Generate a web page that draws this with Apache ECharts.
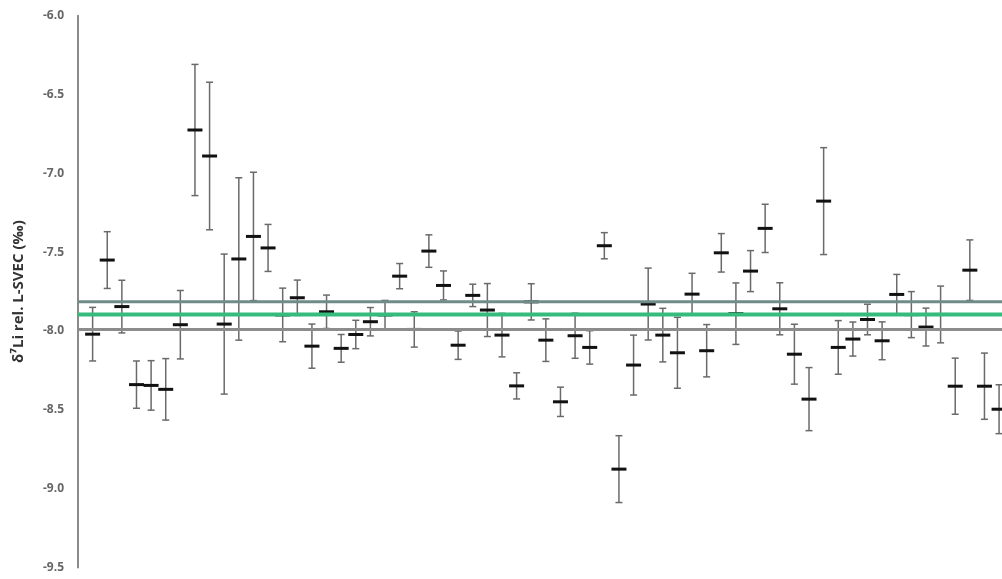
<!DOCTYPE html>
<html>
<head>
<meta charset="utf-8">
<title>δ7Li rel. L-SVEC</title>
<script src="https://cdn.jsdelivr.net/npm/echarts@6/dist/echarts.min.js"></script>
<style>
  html, body { margin: 0; padding: 0; background: #fff; }
  #chart { width: 1002px; height: 579px; }
</style>
</head>
<body>
<div id="chart"></div>
<script>
// Measured δ7Li values (‰, relative to L-SVEC), one per analysis in run order
const deltaValues = [
  -8.02, -7.55, -7.845, -8.34, -8.345, -8.37, -7.96, -6.725, -6.89, -7.956,
  -7.543, -7.40, -7.473, -7.898, -7.789, -8.096, -7.878, -8.11, -8.022, -7.941,
  -7.898, -7.652, -7.99, -7.493, -7.711, -8.09, -7.774, -7.867, -8.026, -8.348,
  -7.815, -8.058, -8.449, -8.03, -8.104, -7.459, -8.876, -8.216, -7.829, -8.026,
  -8.138, -7.766, -8.125, -7.504, -7.89, -7.62, -7.349, -7.859, -8.147, -8.432,
  -7.176, -8.104, -8.051, -7.927, -8.062, -7.768, -7.896, -7.975, -7.895, -8.35,
  -7.614, -8.35, -8.496
];

// Uncertainty (half-length of each error bar, ‰)
const deltaErrors = [
  0.17, 0.18, 0.167, 0.15, 0.157, 0.195, 0.217, 0.416, 0.468, 0.444,
  0.515, 0.407, 0.149, 0.17, 0.112, 0.14, 0.106, 0.088, 0.09, 0.09,
  0.092, 0.08, 0.112, 0.103, 0.092, 0.09, 0.071, 0.168, 0.138, 0.083,
  0.115, 0.135, 0.093, 0.143, 0.106, 0.083, 0.212, 0.19, 0.228, 0.17,
  0.225, 0.132, 0.166, 0.122, 0.195, 0.13, 0.153, 0.165, 0.19, 0.2,
  0.339, 0.17, 0.108, 0.097, 0.12, 0.127, 0.146, 0.12, 0.18, 0.178,
  0.192, 0.21, 0.155
];

// Long-term mean and its bounds (‰)
const meanValue = -7.895;
const upperBound = -7.815;
const lowerBound = -7.99;

// Y axis range and tick spacing
const yMin = -9.5;
const yMax = -6.0;
const yStep = 0.5;

const xMax = 63.2;

const points = deltaValues.map((v, i) => [i + 1, v, deltaErrors[i]]);

function renderErrorBar(params, api) {
  const x = api.value(0);
  const v = api.value(1);
  const e = api.value(2);
  const top = api.coord([x, v + e]);
  const bot = api.coord([x, v - e]);
  const mid = api.coord([x, v]);
  const cap = 3.5;
  const dash = 7.5;
  const barStyle = { stroke: '#6a6a6a', lineWidth: 1.5 };
  return {
    type: 'group',
    children: [
      { type: 'line', shape: { x1: top[0], y1: top[1], x2: bot[0], y2: bot[1] }, style: barStyle },
      { type: 'line', shape: { x1: top[0] - cap, y1: top[1], x2: top[0] + cap, y2: top[1] }, style: barStyle },
      { type: 'line', shape: { x1: bot[0] - cap, y1: bot[1], x2: bot[0] + cap, y2: bot[1] }, style: barStyle },
      { type: 'line', shape: { x1: mid[0] - dash, y1: mid[1], x2: mid[0] + dash, y2: mid[1] },
        style: { stroke: '#111', lineWidth: 3 } }
    ]
  };
}

function refLine(value, color, width, z) {
  return {
    type: 'line',
    data: [[0, value], [xMax, value]],
    showSymbol: false,
    symbol: 'none',
    silent: true,
    z: z,
    lineStyle: { color: color, width: width }
  };
}

const chart = echarts.init(document.getElementById('chart'), null, { renderer: 'canvas' });
chart.setOption({
  backgroundColor: '#ffffff',
  animation: false,
  grid: { left: 78, right: 0, top: 15.7, bottom: 11.5, containLabel: false },
  xAxis: {
    type: 'value', min: 0, max: xMax, show: false
  },
  yAxis: {
    type: 'value',
    min: yMin,
    max: yMax,
    interval: yStep,
    name: 'δ⁷Li rel. L-SVEC (‰)',
    nameLocation: 'middle',
    nameGap: 52,
    nameTextStyle: { fontFamily: 'Open Sans', fontSize: 15, fontWeight: 'bold', color: '#333' },
    axisLine: { show: true, lineStyle: { color: '#8a8a8a', width: 2 } },
    axisTick: { show: false },
    splitLine: { show: false },
    axisLabel: {
      margin: 14,
      fontFamily: 'Open Sans',
      fontSize: 12,
      fontWeight: 'bold',
      color: '#666',
      formatter: v => v.toFixed(1)
    }
  },
  series: [
    {
      type: 'custom',
      data: points,
      renderItem: renderErrorBar,
      encode: { x: 0, y: 1 },
      z: 2,
      silent: true
    },
    refLine(upperBound, '#6f8c89', 3, 5),
    refLine(lowerBound, '#8c8c8c', 3, 5),
    refLine(meanValue, '#35bb7c', 4, 6)
  ]
});
</script>
</body>
</html>
